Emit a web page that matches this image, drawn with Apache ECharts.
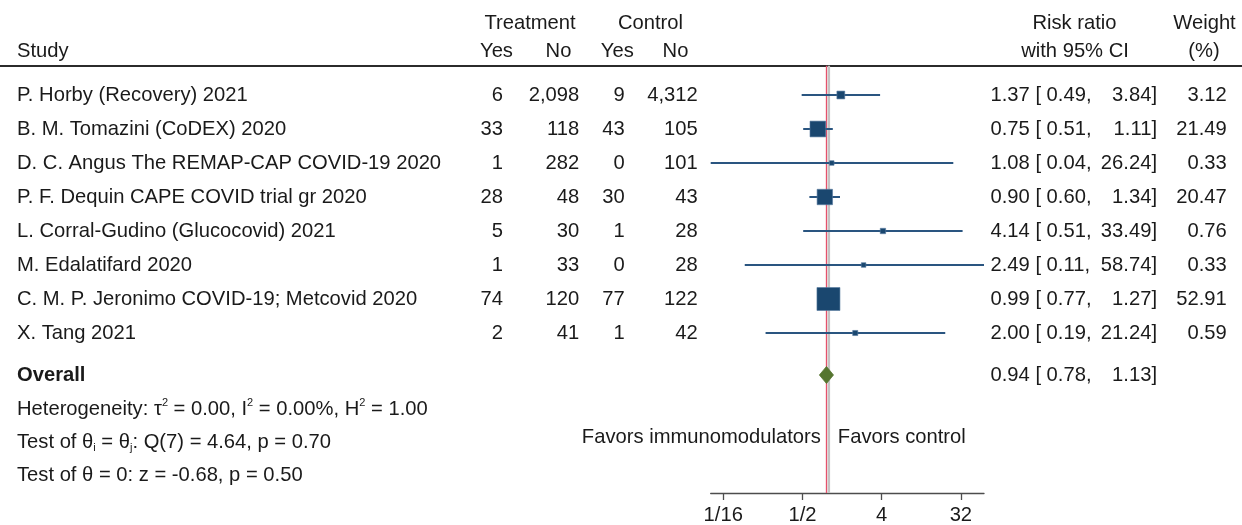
<!DOCTYPE html>
<html>
<head>
<meta charset="utf-8">
<script src="https://cdn.jsdelivr.net/npm/echarts@6/dist/echarts.min.js"></script>
<style>
  html, body { margin: 0; padding: 0; background: #fff; }
  #main { width: 1242px; height: 525px; }
</style>
</head>
<body>
<div id="main"></div>
<script>
// ---- data ----
var studies = [
  'P. Horby (Recovery) 2021',
  'B. M. Tomazini (CoDEX) 2020',
  'D. C. Angus The REMAP-CAP COVID-19 2020',
  'P. F. Dequin CAPE COVID trial gr 2020',
  'L. Corral-Gudino (Glucocovid) 2021',
  'M. Edalatifard 2020',
  'C. M. P. Jeronimo COVID-19; Metcovid 2020',
  'X. Tang 2021'
];
var trtYes = [6, 33, 1, 28, 5, 1, 74, 2];
var trtNo = [2098, 118, 282, 48, 30, 33, 120, 41];
var ctlYes = [9, 43, 0, 30, 1, 0, 77, 1];
var ctlNo = [4312, 105, 101, 43, 28, 28, 122, 42];
var riskRatio = [1.37, 0.75, 1.08, 0.90, 4.14, 2.49, 0.99, 2.00];
var ciLow = [0.49, 0.51, 0.04, 0.60, 0.51, 0.11, 0.77, 0.19];
var ciHigh = [3.84, 1.11, 26.24, 1.34, 33.49, 58.74, 1.27, 21.24];
var weights = [3.12, 21.49, 0.33, 20.47, 0.76, 0.33, 52.91, 0.59];
var overallRR = 0.94, overallLow = 0.78, overallHigh = 1.13;
var tickValues = [1 / 16, 1 / 2, 4, 32];
var tickLabels = ['1/16', '1/2', '4', '32'];
var axisMin = 0.045, axisMax = 58.74;

// ---- layout ----
var FONT = 'Liberation Sans, Arial, Helvetica, sans-serif';
var FS = 20.2;
var TXT = '#1a1a1a';
var col = { name: 17, tYes: 503, tNo: 579.3, cYes: 624.7, cNo: 697.7, rr: 990.5, rrHi: 1157, wt: 1226.7 };
// vertical positions in "row" units (study i sits on row i+1)
var rowHead1 = -1.118, rowHead2 = -0.294;
var rowOverall = 9.235, rowHet = 10.235, rowTest1 = 11.206, rowTest2 = 12.176, rowFavors = 11.06;
var yMin = 0.138, yMax = 12.706;

var log2 = function (v) { return Math.log(v) / Math.LN2; };
var fmt = function (v) { return v.toLocaleString('en-US'); };
var xMin = log2(axisMin), xMax = log2(axisMax);
var maxWeight = Math.max.apply(null, weights);

// ---- text table cells ----
var cells = [];
function cell(x, row, text, align, extra) {
  cells.push(Object.assign({ x: x, row: row, text: text, align: align }, extra || {}));
}
cell(530, rowHead1, 'Treatment', 'center');
cell(650.5, rowHead1, 'Control', 'center');
cell(1074.5, rowHead1, 'Risk ratio', 'center');
cell(1204.5, rowHead1, 'Weight', 'center');
cell(col.name, rowHead2, 'Study', 'left');
cell(496.5, rowHead2, 'Yes', 'center');
cell(558.5, rowHead2, 'No', 'center');
cell(617.3, rowHead2, 'Yes', 'center');
cell(675.5, rowHead2, 'No', 'center');
cell(1075, rowHead2, 'with 95% CI', 'center');
cell(1204, rowHead2, '(%)', 'center');

studies.forEach(function (s, i) {
  var r = i + 1;
  cell(col.name, r, s, 'left');
  cell(col.tYes, r, fmt(trtYes[i]), 'right');
  cell(col.tNo, r, fmt(trtNo[i]), 'right');
  cell(col.cYes, r, fmt(ctlYes[i]), 'right');
  cell(col.cNo, r, fmt(ctlNo[i]), 'right');
  cell(col.rr, r, riskRatio[i].toFixed(2) + ' [ ' + ciLow[i].toFixed(2) + ',', 'left');
  cell(col.rrHi, r, ciHigh[i].toFixed(2) + ']', 'right');
  cell(col.wt, r, weights[i].toFixed(2), 'right');
});
cell(col.name, rowOverall, 'Overall', 'left', { bold: true });
cell(col.rr, rowOverall, overallRR.toFixed(2) + ' [ ' + overallLow.toFixed(2) + ',', 'left');
cell(col.rrHi, rowOverall, overallHigh.toFixed(2) + ']', 'right');
cell(col.name, rowHet, 'Heterogeneity: τ{sup|2} = 0.00, I{sup|2} = 0.00%, H{sup|2} = 1.00', 'left', { rich: true });
cell(col.name, rowTest1, 'Test of θ{sub|i} = θ{sub|j}: Q(7) = 4.64, p = 0.70', 'left', { rich: true });
cell(col.name, rowTest2, 'Test of θ = 0: z = -0.68, p = 0.50', 'left');

var richStyles = {
  sup: { fontSize: 11, fontFamily: FONT, fill: TXT, verticalAlign: 'top', lineHeight: 24 },
  sub: { fontSize: 11, fontFamily: FONT, fill: TXT, verticalAlign: 'bottom', lineHeight: 18 }
};

function renderCell(params, api) {
  var c = cells[api.value(2)];
  var p = api.coord([c.x, c.row]);
  var style = {
    text: c.text,
    fontSize: FS,
    fontFamily: FONT,
    fontWeight: c.bold ? 'bold' : 'normal',
    fill: TXT,
    align: c.align,
    verticalAlign: 'middle'
  };
  if (c.rich) { style.rich = richStyles; style.lineHeight = 22; }
  return { type: 'text', x: p[0], y: p[1], style: style };
}

// vertical reference lines: no effect (grey) and overall estimate (red)
function renderRefLine(params, api) {
  var top = api.coord([api.value(0), yMin]);
  var bot = api.coord([api.value(0), yMax]);
  var isNull = params.dataIndex === 0;
  return {
    type: 'line',
    shape: { x1: top[0], y1: top[1], x2: bot[0], y2: bot[1] },
    style: isNull ? { stroke: '#c4c4c4', lineWidth: 2.5 } : { stroke: '#e5526c', lineWidth: 1.3 }
  };
}

function renderStudy(params, api) {
  var r = api.value(3);
  var lo = api.coord([Math.max(api.value(0), xMin), r]);
  var hi = api.coord([Math.min(api.value(1), xMax), r]);
  var c = api.coord([api.value(2), r]);
  var s = 3 + 20 * Math.sqrt(api.value(4) / maxWeight);
  return {
    type: 'group',
    children: [
      { type: 'line', shape: { x1: lo[0], y1: lo[1], x2: hi[0], y2: hi[1] },
        style: { stroke: '#2a5580', lineWidth: 2 } },
      { type: 'rect', shape: { x: c[0] - s / 2, y: c[1] - s / 2, width: s, height: s },
        style: { fill: '#1a476f', stroke: '#587ba0', lineWidth: 0.6 } }
    ]
  };
}

function renderDiamond(params, api) {
  var r = api.value(3);
  var lo = api.coord([api.value(0), r]);
  var hi = api.coord([api.value(1), r]);
  var c = api.coord([api.value(2), r]);
  var h = 8.5;
  return {
    type: 'polygon',
    shape: { points: [[lo[0], c[1]], [c[0], c[1] - h], [hi[0], c[1]], [c[0], c[1] + h]] },
    style: { fill: '#55752f', stroke: '#55752f', lineWidth: 0.8 }
  };
}

function renderFavors(params, api) {
  var p = api.coord([api.value(0), api.value(1)]);
  var base = { fontSize: FS, fontFamily: FONT, fill: TXT, verticalAlign: 'middle' };
  return {
    type: 'group',
    children: [
      { type: 'text', x: p[0] - 8, y: p[1], style: Object.assign({ text: 'Favors immunomodulators', align: 'right' }, base) },
      { type: 'text', x: p[0] + 9, y: p[1], style: Object.assign({ text: 'Favors control', align: 'left' }, base) }
    ]
  };
}

var tickLog = tickValues.map(log2);
var studyData = studies.map(function (s, i) {
  return [log2(ciLow[i]), log2(ciHigh[i]), log2(riskRatio[i]), i + 1, weights[i]];
});

var option = {
  animation: false,
  backgroundColor: '#fff',
  grid: [
    { left: 0, right: 0, top: 65.7, bottom: 32 },
    { left: 710.7, right: 258, top: 65.7, bottom: 32 }
  ],
  xAxis: [
    { gridIndex: 0, type: 'value', min: 0, max: 1242, position: 'top',
      axisLine: { show: true, lineStyle: { color: '#2b2b2b', width: 2 } },
      axisTick: { show: false }, axisLabel: { show: false }, splitLine: { show: false } },
    { gridIndex: 1, type: 'value', min: xMin, max: xMax,
      axisLine: { show: true, lineStyle: { color: '#4d4d4d', width: 1.3 } },
      axisTick: { show: true, customValues: tickLog, length: 7, lineStyle: { color: '#4d4d4d', width: 1.3 } },
      axisLabel: {
        customValues: tickLog, margin: 12, fontSize: FS, fontFamily: FONT, color: TXT,
        formatter: function (v) {
          for (var k = 0; k < tickLog.length; k++) {
            if (Math.abs(tickLog[k] - v) < 1e-6) return tickLabels[k];
          }
          return '';
        }
      },
      splitLine: { show: false } }
  ],
  yAxis: [
    { gridIndex: 0, type: 'value', inverse: true, min: yMin, max: yMax, show: false },
    { gridIndex: 1, type: 'value', inverse: true, min: yMin, max: yMax, show: false }
  ],
  series: [
    {
      type: 'custom', xAxisIndex: 1, yAxisIndex: 1, z: 1,
      renderItem: renderRefLine,
      encode: { x: 0 },
      data: [[0], [log2(overallRR)]]
    },
    {
      type: 'custom', xAxisIndex: 1, yAxisIndex: 1, z: 3,
      renderItem: renderStudy,
      encode: { x: [0, 1, 2], y: 3 },
      data: studyData
    },
    {
      type: 'custom', xAxisIndex: 1, yAxisIndex: 1, z: 3,
      renderItem: renderDiamond,
      encode: { x: [0, 1, 2], y: 3 },
      data: [[log2(overallLow), log2(overallHigh), log2(overallRR), rowOverall]]
    },
    {
      type: 'custom', xAxisIndex: 1, yAxisIndex: 1, z: 3,
      renderItem: renderFavors,
      encode: { x: 0, y: 1 },
      data: [[0, rowFavors]]
    },
    {
      type: 'custom', xAxisIndex: 0, yAxisIndex: 0, z: 4,
      renderItem: renderCell,
      encode: { x: 0, y: 1 },
      data: cells.map(function (c, i) { return [c.x, c.row, i]; })
    }
  ]
};

var chart = echarts.init(document.getElementById('main'));
chart.setOption(option);
</script>
</body>
</html>
